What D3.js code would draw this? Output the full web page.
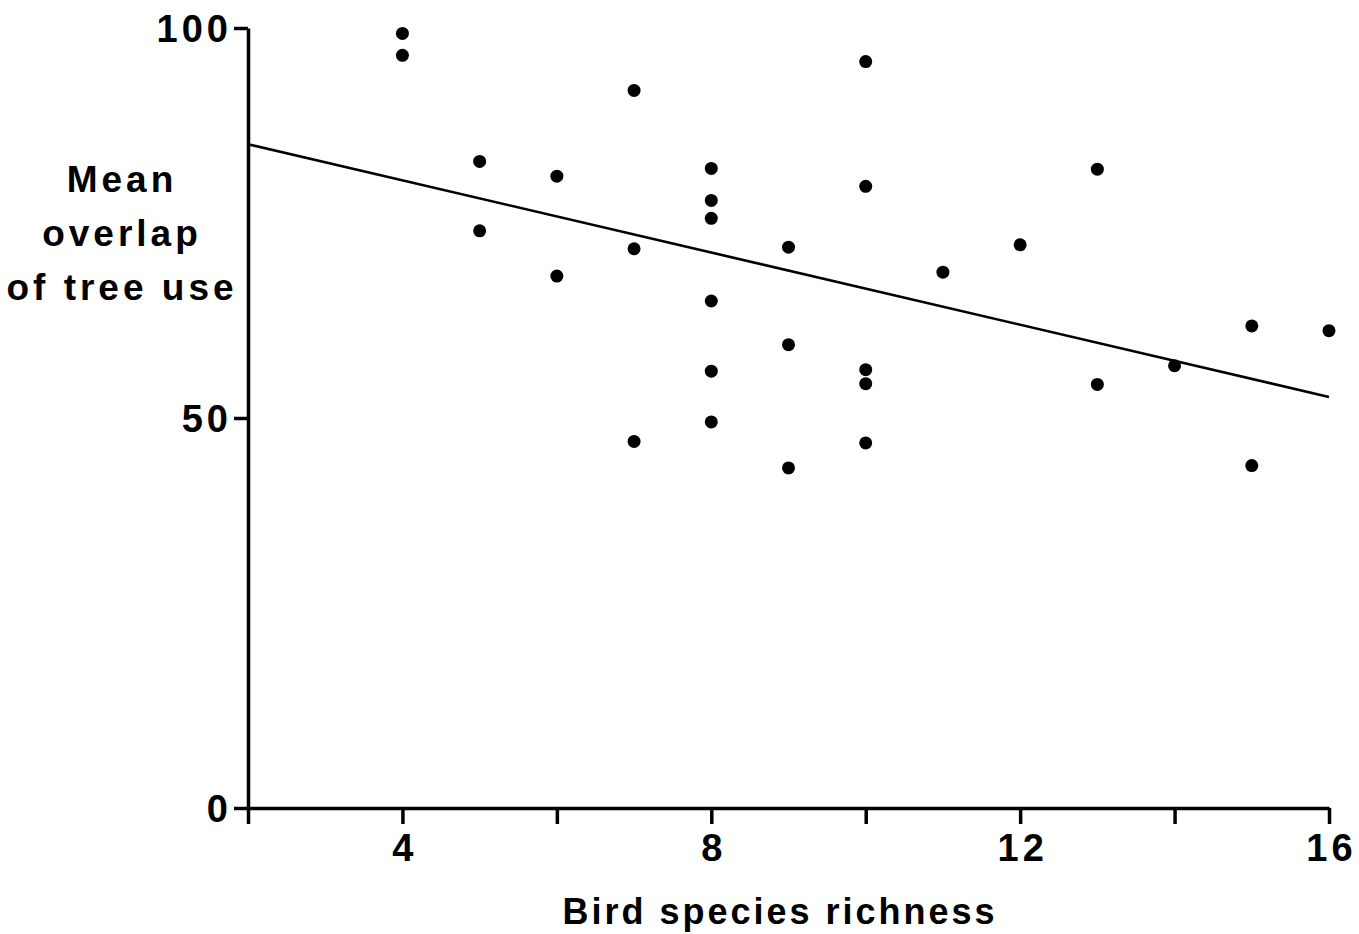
<!DOCTYPE html>
<html>
<head>
<meta charset="utf-8">
<script src="https://cdn.jsdelivr.net/npm/d3@7"></script>
<style>
  body { margin: 0; background: #fff; }
  svg { display: block; }
  text { font-family: "Liberation Sans", Arial, sans-serif; fill: #000; }
</style>
</head>
<body>
<svg id="chart"></svg>
<script>
// bird species richness (x) and mean overlap of tree use (y)
const richness = [4, 4, 5, 5, 6, 6, 7, 7, 7, 8, 8, 8, 8, 8, 8, 9, 9, 9,
    10, 10, 10, 10, 10, 11, 12, 13, 13, 14, 15, 15, 16];
const overlap = [99.3, 96.5, 82.9, 74.0, 81.0, 68.2, 92.0, 71.7, 47.0, 82.0, 77.9, 75.6, 65.0, 56.0, 49.5,
    71.9, 59.4, 43.6, 95.7, 79.7, 56.2, 54.4, 46.8, 68.7, 72.2, 81.9, 54.3, 56.7, 61.8, 43.9, 61.2];
// fitted line end points
const fitX = [2, 16];
const fitY = [85.1, 52.7];
const xTicks = [2, 4, 6, 8, 10, 12, 14, 16];
const xTickLabels = ['', '4', '', '8', '', '12', '', '16'];
const yTicks = [0, 50, 100];
const yLabelLines = ['Mean', 'overlap', 'of tree use'];
const xTitle = 'Bird species richness';

class ScatterChart {
    constructor(config) {
        this.config = {
            parent: config.parent,
            width: config.width || 1359,
            height: config.height || 934,
            margin: config.margin || { top: 28, right: 30, bottom: 126, left: 248 }
        };
        this.init();
    }

    init() {
        let self = this;
        self.svg = d3.select(self.config.parent)
            .attr('width', self.config.width)
            .attr('height', self.config.height);

        self.innerW = self.config.width - self.config.margin.left - self.config.margin.right;
        self.innerH = self.config.height - self.config.margin.top - self.config.margin.bottom;

        self.chart = self.svg.append('g')
            .attr('transform', `translate(${self.config.margin.left}, ${self.config.margin.top})`);

        self.xScale = d3.scaleLinear().domain([2, 16]).range([0, self.innerW]);
        self.yScale = d3.scaleLinear().domain([0, 100]).range([self.innerH, 0]);
    }

    render() {
        let self = this;

        // x axis
        const xAxis = d3.axisBottom(self.xScale)
            .tickValues(xTicks)
            .tickFormat((d, i) => xTickLabels[i])
            .tickSize(16)
            .tickSizeOuter(0)
            .tickPadding(10);
        const gx = self.chart.append('g')
            .attr('transform', `translate(0, ${self.innerH})`)
            .call(xAxis);

        // y axis
        const yAxis = d3.axisLeft(self.yScale)
            .tickValues(yTicks)
            .tickSize(14)
            .tickSizeOuter(0)
            .tickPadding(2);
        const gy = self.chart.append('g').call(yAxis);

        [gx, gy].forEach(g => {
            g.select('.domain').attr('stroke', '#000').attr('stroke-width', 3.5);
            g.selectAll('.tick line').attr('stroke', '#000').attr('stroke-width', 3.5);
            g.selectAll('.tick text')
                .attr('font-size', '38px')
                .attr('font-weight', 'bold')
                .attr('letter-spacing', '4px')
                .attr('fill', '#000');
        });
        gy.selectAll('.tick text').attr('dy', '0.36em');
        gx.selectAll('.tick text').attr('dx', '2px');

        // fitted line
        const line = d3.line()
            .x(d => self.xScale(d[0]))
            .y(d => self.yScale(d[1]));
        self.chart.append('path')
            .datum(fitX.map((x, i) => [x, fitY[i]]))
            .attr('d', line)
            .attr('fill', 'none')
            .attr('stroke', '#000')
            .attr('stroke-width', 2.6);

        // points
        self.chart.selectAll('circle.pt')
            .data(richness.map((x, i) => ({ x: x, y: overlap[i] })))
            .join('circle')
            .attr('class', 'pt')
            .attr('cx', d => self.xScale(d.x))
            .attr('cy', d => self.yScale(d.y))
            .attr('r', 6.5)
            .attr('fill', '#000');

        // y title, three centred lines
        self.svg.append('text')
            .attr('text-anchor', 'middle')
            .attr('font-size', '37px')
            .attr('font-weight', 'bold')
            .attr('letter-spacing', '4px')
            .selectAll('tspan')
            .data(yLabelLines)
            .join('tspan')
            .attr('x', 122)
            .attr('y', (d, i) => 192 + i * 54)
            .text(d => d);

        // x title
        self.svg.append('text')
            .attr('x', 780)
            .attr('y', 924)
            .attr('text-anchor', 'middle')
            .attr('font-size', '36px')
            .attr('letter-spacing', '3px')
            .attr('font-weight', 'bold')
            .text(xTitle);
    }
}

const chart = new ScatterChart({ parent: '#chart' });
chart.render();
</script>
</body>
</html>
